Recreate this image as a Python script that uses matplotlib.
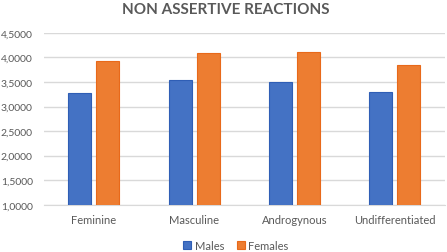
import matplotlib
matplotlib.use('Agg')
import matplotlib.pyplot as plt
import numpy as np
from matplotlib.ticker import FuncFormatter

categories = ['Feminine', 'Masculine', 'Androgynous', 'Undifferentiated']
males = [3.28, 3.54, 3.49, 3.30]
females = [3.92, 4.10, 4.11, 3.85]
yticks = [1.0, 1.5, 2.0, 2.5, 3.0, 3.5, 4.0, 4.5]

plt.rcParams['font.family'] = ['Lato', 'DejaVu Sans']
text_col = '#595959'

fig = plt.figure(figsize=(4.47, 2.53), dpi=100)
ax = fig.add_axes([0.098, 0.187, 0.897, 0.679])

x = np.arange(len(categories))
w = 0.23
ax.bar(x - 0.14, males, w, bottom=0, color='#4472C4', edgecolor='#2F5EB5', linewidth=0.8, label='Males', zorder=3)
ax.bar(x + 0.14, females, w, bottom=0, color='#ED7D31', edgecolor='#E8691A', linewidth=0.8, label='Females', zorder=3)

ax.set_xlim(-0.5, len(categories) - 0.5)
ax.set_ylim(1.0, 4.5)
ax.set_yticks(yticks)
ax.yaxis.set_major_formatter(FuncFormatter(lambda v, p: f'{v:.4f}'.replace('.', ',')))
ax.set_xticks(x)
ax.set_xticklabels(categories, fontsize=8)
ax.grid(axis='y', color='#D9D9D9', linewidth=1.0, zorder=0)
for s in ['top', 'right', 'left']:
    ax.spines[s].set_visible(False)
ax.spines['bottom'].set_color('#D9D9D9')
ax.tick_params(axis='y', length=0, labelsize=7.5, labelcolor=text_col, pad=8)
ax.tick_params(axis='x', length=0, labelcolor=text_col, pad=7)

fig.text(0.505, 0.962, 'NON ASSERTIVE REACTIONS', ha='center', va='center', fontsize=11, fontweight='bold', color=text_col)

fig.legend(*ax.get_legend_handles_labels(), loc='center', bbox_to_anchor=(0.528, 0.025), ncol=2, frameon=False,
           fontsize=8, labelcolor=text_col, handlelength=0.7, handleheight=0.7, handletextpad=0.3, columnspacing=1.2)

fig.savefig('out.png', dpi=100)
